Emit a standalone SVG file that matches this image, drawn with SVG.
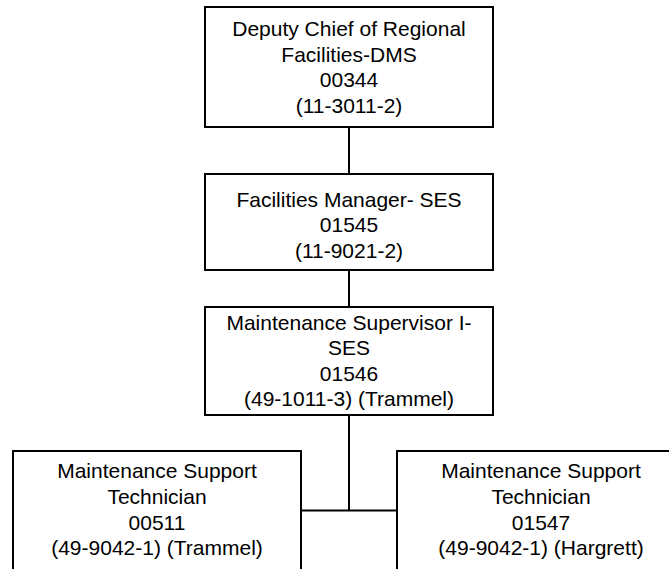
<svg xmlns="http://www.w3.org/2000/svg" width="669" height="569" viewBox="0 0 669 569">
  <style>
    .box { fill: #ffffff; stroke: #000000; stroke-width: 2; }
    .lbl { font-family: "Liberation Sans", Arial, sans-serif; font-size: 21px; fill: #000000; text-anchor: middle; }
    .wire { fill: none; stroke: #000000; stroke-width: 2; }
  </style>
  <rect width="669" height="569" fill="#ffffff"/>

  <!-- reporting lines -->
  <g id="connectors">
    <line class="wire" x1="349" y1="127" x2="349" y2="174"/>
    <line class="wire" x1="349" y1="270" x2="349" y2="307"/>
    <line class="wire" x1="349" y1="415" x2="349" y2="510.5"/>
    <line class="wire" x1="301" y1="510.5" x2="397" y2="510.5"/>
  </g>

  <g id="deputy-chief">
    <rect class="box" x="205" y="7" width="288" height="120"/>
    <text class="lbl" x="349" y="36">Deputy Chief of Regional</text>
    <text class="lbl" x="349" y="61.6">Facilities-DMS</text>
    <text class="lbl" x="349" y="87.2">00344</text>
    <text class="lbl" x="349" y="112.8">(11-3011-2)</text>
  </g>

  <g id="facilities-manager">
    <rect class="box" x="205" y="174" width="288" height="96"/>
    <text class="lbl" x="349" y="206.7">Facilities Manager- SES</text>
    <text class="lbl" x="349" y="232.3">01545</text>
    <text class="lbl" x="349" y="257.9">(11-9021-2)</text>
  </g>

  <g id="maintenance-supervisor">
    <rect class="box" x="205" y="307" width="288" height="108"/>
    <text class="lbl" x="349" y="329.5">Maintenance Supervisor I-</text>
    <text class="lbl" x="349" y="355">SES</text>
    <text class="lbl" x="349" y="380.5">01546</text>
    <text class="lbl" x="349" y="406">(49-1011-3) (Trammel)</text>
  </g>

  <g id="technician-00511">
    <rect class="box" x="13" y="451" width="288" height="140"/>
    <text class="lbl" x="157" y="478.3">Maintenance Support</text>
    <text class="lbl" x="157" y="503.9">Technician</text>
    <text class="lbl" x="157" y="529.5">00511</text>
    <text class="lbl" x="157" y="555.1">(49-9042-1) (Trammel)</text>
  </g>

  <g id="technician-01547">
    <rect class="box" x="397" y="451" width="288" height="140"/>
    <text class="lbl" x="541" y="478.3">Maintenance Support</text>
    <text class="lbl" x="541" y="503.9">Technician</text>
    <text class="lbl" x="541" y="529.5">01547</text>
    <text class="lbl" x="541" y="555.1">(49-9042-1) (Hargrett)</text>
  </g>
</svg>
